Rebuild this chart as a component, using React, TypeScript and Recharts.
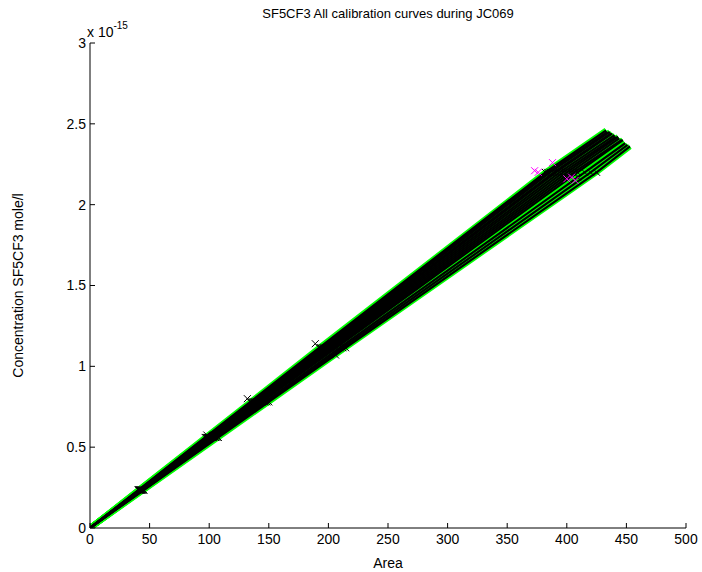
import { ComposedChart, Line, Scatter, XAxis, YAxis } from 'recharts'

// concentration of the calibration standards, in units of 1e-15 mole/l
const LEVELS = [0, 0.235, 0.56, 0.78, 1.115, 2.2]

// peak area measured for each standard, one row per calibration run
const RUN_AREAS = [
  [0, 45.2, 107.7, 150.0, 214.4, 425],
  [0, 44.7, 106.5, 148.3, 212.0, 420],
  [0, 44.2, 105.3, 146.6, 209.6, 415],
  [0, 43.5, 103.7, 144.4, 206.5, 409],
  [0, 43.2, 102.9, 143.4, 205.0, 406],
  [0, 42.9, 102.2, 142.3, 203.5, 403],
  [0, 42.6, 101.4, 141.3, 202.0, 400],
  [0, 42.3, 100.7, 140.3, 200.5, 397],
  [0, 42.0, 100.0, 139.3, 199.1, 394],
  [0, 41.7, 99.3, 138.3, 197.7, 391],
  [0, 41.4, 98.6, 137.3, 196.3, 389],
  [0, 41.1, 97.9, 136.4, 194.9, 386],
  [0, 40.8, 97.2, 135.4, 193.6, 384],
  [0, 40.5, 96.6, 134.5, 192.2, 382],
]

// where each fitted curve stops
const END_AREA = [453, 451, 449, 447, 446, 444, 443, 441, 440, 438, 437, 436, 434, 433]
const END_CONC = [2.36, 2.37, 2.38, 2.40, 2.40, 2.41, 2.42, 2.42, 2.43, 2.44, 2.44, 2.45, 2.45, 2.46]

// standards lying off their run's curve
const STRAY_AREA = [98, 132, 189, 206, 409]
const STRAY_CONC = [0.575, 0.8, 1.14, 1.07, 2.17]

// rejected top standards
const REJECTED_AREA = [373, 376, 388, 400, 404, 407]
const REJECTED_CONC = [2.21, 2.2, 2.26, 2.16, 2.17, 2.15]

const X_TICKS = [0, 50, 100, 150, 200, 250, 300, 350, 400, 450, 500]
const Y_TICKS = [0, 0.5, 1, 1.5, 2, 2.5, 3]

const FONT = '"Liberation Sans", Arial, Helvetica, sans-serif'

const runs = RUN_AREAS.map((areas, r) => [
  ...areas.map((a, i) => ({ area: a, conc: LEVELS[i] })),
  { area: END_AREA[r], conc: END_CONC[r] },
])

const standards = [
  ...RUN_AREAS.flatMap((areas) => areas.slice(1).map((a, i) => ({ area: a, conc: LEVELS[i + 1] }))),
  ...STRAY_AREA.map((a, i) => ({ area: a, conc: STRAY_CONC[i] })),
]

const rejected = REJECTED_AREA.map((a, i) => ({ area: a, conc: REJECTED_CONC[i] }))

function Cross(props: any) {
  const { cx, cy, fill } = props
  const s = 3.5
  return (
    <g stroke={fill} strokeWidth={1}>
      <line x1={cx - s} y1={cy - s} x2={cx + s} y2={cy + s} />
      <line x1={cx - s} y1={cy + s} x2={cx + s} y2={cy - s} />
    </g>
  )
}

export default function App() {
  return (
    <div style={{ position: 'absolute', left: 0, top: 0, width: 702, height: 572, background: '#fff', fontFamily: FONT }}>
      <ComposedChart width={702} height={572} margin={{ top: 43, right: 16, bottom: 14, left: 0 }}>
        <XAxis
          type="number"
          dataKey="area"
          domain={[0, 500]}
          ticks={X_TICKS}
          allowDataOverflow
          height={30}
          tickSize={-5}
          tickMargin={11}
          stroke="#000"
          tick={{ fill: '#000', fontSize: 14, fontFamily: FONT }}
          label={{ value: 'Area', position: 'insideBottom', offset: -10, fill: '#000', fontSize: 14, fontFamily: FONT }}
        />
        <YAxis
          type="number"
          domain={[0, 3]}
          ticks={Y_TICKS}
          allowDataOverflow
          width={90}
          tickSize={-5}
          tickMargin={9}
          stroke="#000"
          tick={{ fill: '#000', fontSize: 14, fontFamily: FONT }}
          label={{
            value: 'Concentration SF5CF3 mole/l',
            angle: -90,
            position: 'insideLeft',
            offset: 18,
            style: { textAnchor: 'middle' },
            fill: '#000',
            fontSize: 14,
            fontFamily: FONT,
          }}
        />
        {runs.map((d, i) => (
          <Line
            key={'g' + i}
            data={d}
            dataKey="conc"
            stroke="#00ff00"
            strokeWidth={5.5}
            dot={false}
            isAnimationActive={false}
          />
        ))}
        <Scatter data={standards} dataKey="conc" fill="#000" shape={<Cross />} isAnimationActive={false} />
        {runs.map((d, i) => (
          <Line
            key={'k' + i}
            data={d}
            dataKey="conc"
            stroke="#000"
            strokeWidth={2.2}
            dot={false}
            isAnimationActive={false}
          />
        ))}
        <Scatter data={rejected} dataKey="conc" fill="#ff00ff" shape={<Cross />} isAnimationActive={false} />
      </ComposedChart>
      <div style={{ position: 'absolute', left: 0, width: 702, top: 6, paddingLeft: 90, boxSizing: 'border-box', textAlign: 'center', fontSize: 13, color: '#000' }}>
        <span style={{ position: 'relative', left: -8 }}>SF5CF3 All calibration curves during JC069</span>
      </div>
      <div style={{ position: 'absolute', left: 87, top: 22, fontSize: 14, color: '#000', whiteSpace: 'nowrap' }}>
        x 10<sup style={{ fontSize: 10, position: 'relative', top: -2 }}>-15</sup>
      </div>
    </div>
  )
}
